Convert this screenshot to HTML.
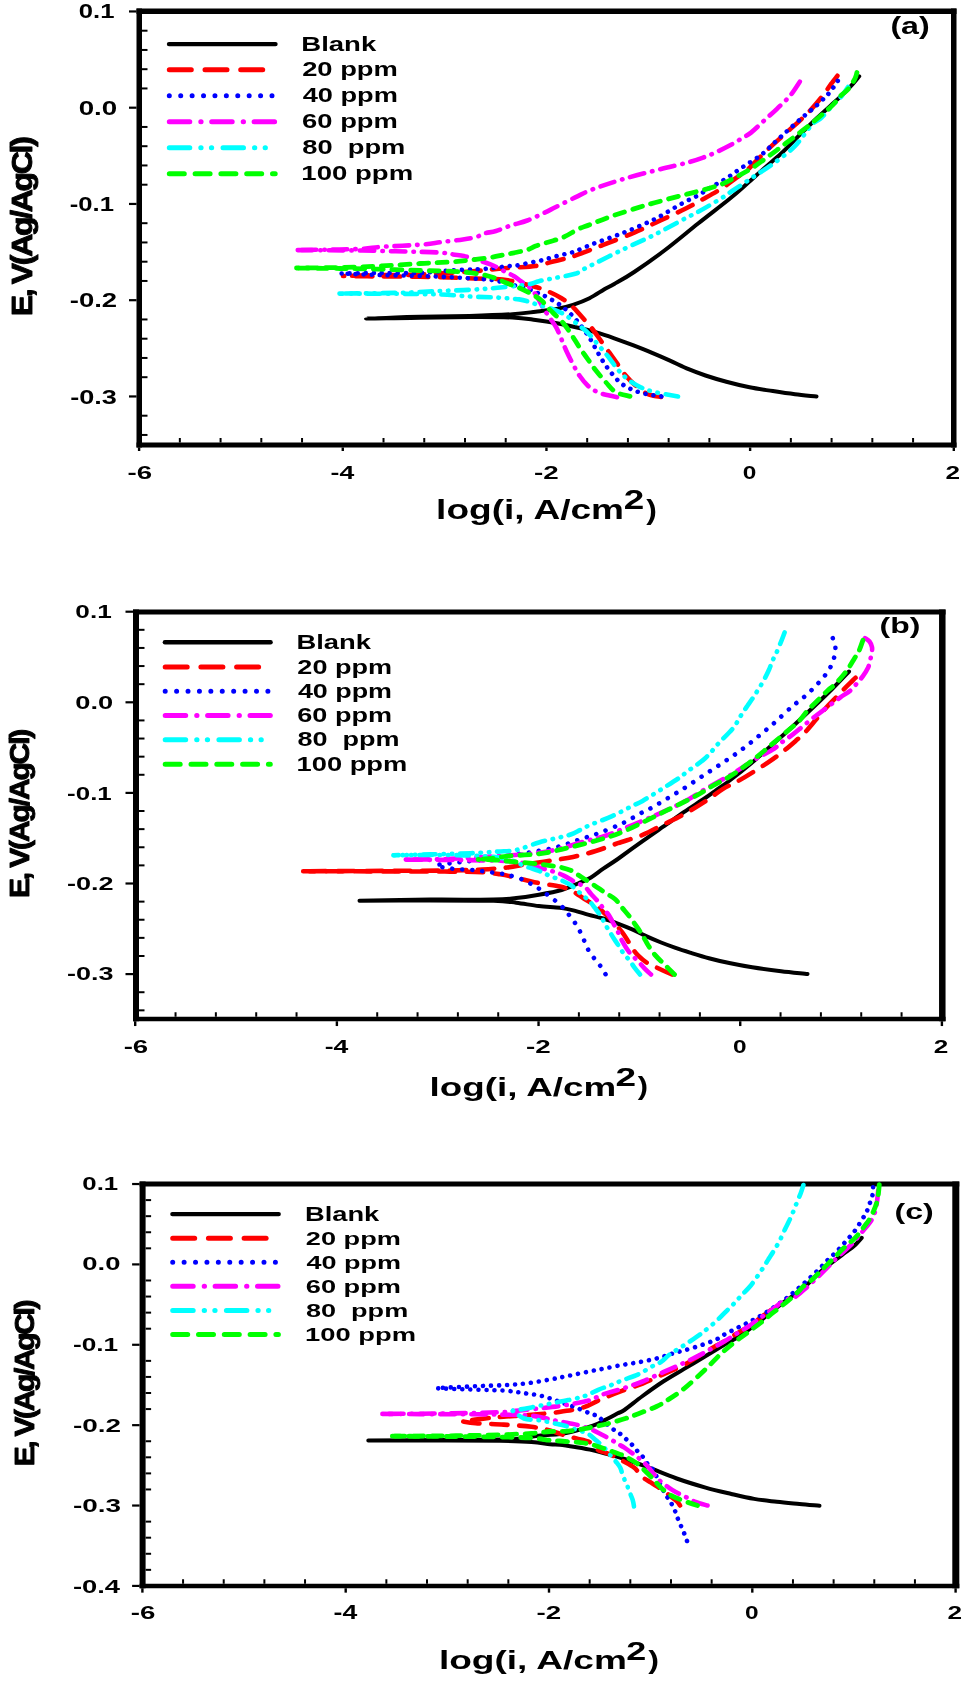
<!DOCTYPE html>
<html><head><meta charset="utf-8"><style>
html,body{margin:0;padding:0;background:#fff;}
body{width:969px;height:1682px;overflow:hidden;font-family:"Liberation Sans", sans-serif;}
svg{display:block;will-change:transform;}
</style></head><body>
<svg width="969" height="1682" viewBox="0 0 969 1682">
<rect width="969" height="1682" fill="#fff"/>
<line x1="139.25" y1="8.50" x2="139.25" y2="447.50" stroke="#000" stroke-width="5.5" stroke-linecap="butt"/>
<line x1="953.75" y1="8.50" x2="953.75" y2="447.50" stroke="#000" stroke-width="5.5" stroke-linecap="butt"/>
<line x1="136.50" y1="11.25" x2="956.50" y2="11.25" stroke="#000" stroke-width="5.5" stroke-linecap="butt"/>
<line x1="136.50" y1="445.00" x2="956.50" y2="445.00" stroke="#000" stroke-width="5.0" stroke-linecap="butt"/>
<line x1="142.00" y1="434.95" x2="147.50" y2="434.95" stroke="#000" stroke-width="2.0" stroke-linecap="butt"/>
<line x1="142.00" y1="415.70" x2="147.50" y2="415.70" stroke="#000" stroke-width="2.0" stroke-linecap="butt"/>
<line x1="129.00" y1="396.45" x2="136.50" y2="396.45" stroke="#000" stroke-width="2.2" stroke-linecap="butt"/>
<line x1="142.00" y1="377.20" x2="147.50" y2="377.20" stroke="#000" stroke-width="2.0" stroke-linecap="butt"/>
<line x1="142.00" y1="357.95" x2="147.50" y2="357.95" stroke="#000" stroke-width="2.0" stroke-linecap="butt"/>
<line x1="142.00" y1="338.70" x2="147.50" y2="338.70" stroke="#000" stroke-width="2.0" stroke-linecap="butt"/>
<line x1="142.00" y1="319.45" x2="147.50" y2="319.45" stroke="#000" stroke-width="2.0" stroke-linecap="butt"/>
<line x1="129.00" y1="300.20" x2="136.50" y2="300.20" stroke="#000" stroke-width="2.2" stroke-linecap="butt"/>
<line x1="142.00" y1="280.95" x2="147.50" y2="280.95" stroke="#000" stroke-width="2.0" stroke-linecap="butt"/>
<line x1="142.00" y1="261.70" x2="147.50" y2="261.70" stroke="#000" stroke-width="2.0" stroke-linecap="butt"/>
<line x1="142.00" y1="242.45" x2="147.50" y2="242.45" stroke="#000" stroke-width="2.0" stroke-linecap="butt"/>
<line x1="142.00" y1="223.20" x2="147.50" y2="223.20" stroke="#000" stroke-width="2.0" stroke-linecap="butt"/>
<line x1="129.00" y1="203.95" x2="136.50" y2="203.95" stroke="#000" stroke-width="2.2" stroke-linecap="butt"/>
<line x1="142.00" y1="184.70" x2="147.50" y2="184.70" stroke="#000" stroke-width="2.0" stroke-linecap="butt"/>
<line x1="142.00" y1="165.45" x2="147.50" y2="165.45" stroke="#000" stroke-width="2.0" stroke-linecap="butt"/>
<line x1="142.00" y1="146.20" x2="147.50" y2="146.20" stroke="#000" stroke-width="2.0" stroke-linecap="butt"/>
<line x1="142.00" y1="126.95" x2="147.50" y2="126.95" stroke="#000" stroke-width="2.0" stroke-linecap="butt"/>
<line x1="129.00" y1="107.70" x2="136.50" y2="107.70" stroke="#000" stroke-width="2.2" stroke-linecap="butt"/>
<line x1="142.00" y1="88.45" x2="147.50" y2="88.45" stroke="#000" stroke-width="2.0" stroke-linecap="butt"/>
<line x1="142.00" y1="69.20" x2="147.50" y2="69.20" stroke="#000" stroke-width="2.0" stroke-linecap="butt"/>
<line x1="142.00" y1="49.95" x2="147.50" y2="49.95" stroke="#000" stroke-width="2.0" stroke-linecap="butt"/>
<line x1="142.00" y1="30.70" x2="147.50" y2="30.70" stroke="#000" stroke-width="2.0" stroke-linecap="butt"/>
<line x1="129.00" y1="11.45" x2="136.50" y2="11.45" stroke="#000" stroke-width="2.2" stroke-linecap="butt"/>
<line x1="139.10" y1="447.50" x2="139.10" y2="451.00" stroke="#000" stroke-width="2.4" stroke-linecap="butt"/>
<line x1="179.84" y1="438.00" x2="179.84" y2="442.50" stroke="#000" stroke-width="2.0" stroke-linecap="butt"/>
<line x1="220.57" y1="438.00" x2="220.57" y2="442.50" stroke="#000" stroke-width="2.0" stroke-linecap="butt"/>
<line x1="261.31" y1="438.00" x2="261.31" y2="442.50" stroke="#000" stroke-width="2.0" stroke-linecap="butt"/>
<line x1="302.04" y1="438.00" x2="302.04" y2="442.50" stroke="#000" stroke-width="2.0" stroke-linecap="butt"/>
<line x1="342.77" y1="447.50" x2="342.77" y2="451.00" stroke="#000" stroke-width="2.4" stroke-linecap="butt"/>
<line x1="383.51" y1="438.00" x2="383.51" y2="442.50" stroke="#000" stroke-width="2.0" stroke-linecap="butt"/>
<line x1="424.25" y1="438.00" x2="424.25" y2="442.50" stroke="#000" stroke-width="2.0" stroke-linecap="butt"/>
<line x1="464.98" y1="438.00" x2="464.98" y2="442.50" stroke="#000" stroke-width="2.0" stroke-linecap="butt"/>
<line x1="505.71" y1="438.00" x2="505.71" y2="442.50" stroke="#000" stroke-width="2.0" stroke-linecap="butt"/>
<line x1="546.45" y1="447.50" x2="546.45" y2="451.00" stroke="#000" stroke-width="2.4" stroke-linecap="butt"/>
<line x1="587.18" y1="438.00" x2="587.18" y2="442.50" stroke="#000" stroke-width="2.0" stroke-linecap="butt"/>
<line x1="627.92" y1="438.00" x2="627.92" y2="442.50" stroke="#000" stroke-width="2.0" stroke-linecap="butt"/>
<line x1="668.65" y1="438.00" x2="668.65" y2="442.50" stroke="#000" stroke-width="2.0" stroke-linecap="butt"/>
<line x1="709.39" y1="438.00" x2="709.39" y2="442.50" stroke="#000" stroke-width="2.0" stroke-linecap="butt"/>
<line x1="750.12" y1="447.50" x2="750.12" y2="451.00" stroke="#000" stroke-width="2.4" stroke-linecap="butt"/>
<line x1="790.86" y1="438.00" x2="790.86" y2="442.50" stroke="#000" stroke-width="2.0" stroke-linecap="butt"/>
<line x1="831.60" y1="438.00" x2="831.60" y2="442.50" stroke="#000" stroke-width="2.0" stroke-linecap="butt"/>
<line x1="872.33" y1="438.00" x2="872.33" y2="442.50" stroke="#000" stroke-width="2.0" stroke-linecap="butt"/>
<line x1="913.07" y1="438.00" x2="913.07" y2="442.50" stroke="#000" stroke-width="2.0" stroke-linecap="butt"/>
<line x1="953.80" y1="447.50" x2="953.80" y2="451.00" stroke="#000" stroke-width="2.4" stroke-linecap="butt"/>
<line x1="136.00" y1="609.50" x2="136.00" y2="1021.25" stroke="#000" stroke-width="6.0" stroke-linecap="butt"/>
<line x1="942.30" y1="609.50" x2="942.30" y2="1021.25" stroke="#000" stroke-width="6.5" stroke-linecap="butt"/>
<line x1="133.00" y1="612.00" x2="945.55" y2="612.00" stroke="#000" stroke-width="5.0" stroke-linecap="butt"/>
<line x1="133.00" y1="1019.00" x2="945.55" y2="1019.00" stroke="#000" stroke-width="4.5" stroke-linecap="butt"/>
<line x1="139.00" y1="1010.34" x2="144.50" y2="1010.34" stroke="#000" stroke-width="2.0" stroke-linecap="butt"/>
<line x1="139.00" y1="992.22" x2="144.50" y2="992.22" stroke="#000" stroke-width="2.0" stroke-linecap="butt"/>
<line x1="125.50" y1="974.10" x2="133.00" y2="974.10" stroke="#000" stroke-width="2.2" stroke-linecap="butt"/>
<line x1="139.00" y1="955.98" x2="144.50" y2="955.98" stroke="#000" stroke-width="2.0" stroke-linecap="butt"/>
<line x1="139.00" y1="937.86" x2="144.50" y2="937.86" stroke="#000" stroke-width="2.0" stroke-linecap="butt"/>
<line x1="139.00" y1="919.74" x2="144.50" y2="919.74" stroke="#000" stroke-width="2.0" stroke-linecap="butt"/>
<line x1="139.00" y1="901.62" x2="144.50" y2="901.62" stroke="#000" stroke-width="2.0" stroke-linecap="butt"/>
<line x1="125.50" y1="883.50" x2="133.00" y2="883.50" stroke="#000" stroke-width="2.2" stroke-linecap="butt"/>
<line x1="139.00" y1="865.38" x2="144.50" y2="865.38" stroke="#000" stroke-width="2.0" stroke-linecap="butt"/>
<line x1="139.00" y1="847.26" x2="144.50" y2="847.26" stroke="#000" stroke-width="2.0" stroke-linecap="butt"/>
<line x1="139.00" y1="829.14" x2="144.50" y2="829.14" stroke="#000" stroke-width="2.0" stroke-linecap="butt"/>
<line x1="139.00" y1="811.02" x2="144.50" y2="811.02" stroke="#000" stroke-width="2.0" stroke-linecap="butt"/>
<line x1="125.50" y1="792.90" x2="133.00" y2="792.90" stroke="#000" stroke-width="2.2" stroke-linecap="butt"/>
<line x1="139.00" y1="774.78" x2="144.50" y2="774.78" stroke="#000" stroke-width="2.0" stroke-linecap="butt"/>
<line x1="139.00" y1="756.66" x2="144.50" y2="756.66" stroke="#000" stroke-width="2.0" stroke-linecap="butt"/>
<line x1="139.00" y1="738.54" x2="144.50" y2="738.54" stroke="#000" stroke-width="2.0" stroke-linecap="butt"/>
<line x1="139.00" y1="720.42" x2="144.50" y2="720.42" stroke="#000" stroke-width="2.0" stroke-linecap="butt"/>
<line x1="125.50" y1="702.30" x2="133.00" y2="702.30" stroke="#000" stroke-width="2.2" stroke-linecap="butt"/>
<line x1="139.00" y1="684.18" x2="144.50" y2="684.18" stroke="#000" stroke-width="2.0" stroke-linecap="butt"/>
<line x1="139.00" y1="666.06" x2="144.50" y2="666.06" stroke="#000" stroke-width="2.0" stroke-linecap="butt"/>
<line x1="139.00" y1="647.94" x2="144.50" y2="647.94" stroke="#000" stroke-width="2.0" stroke-linecap="butt"/>
<line x1="139.00" y1="629.82" x2="144.50" y2="629.82" stroke="#000" stroke-width="2.0" stroke-linecap="butt"/>
<line x1="125.50" y1="611.70" x2="133.00" y2="611.70" stroke="#000" stroke-width="2.2" stroke-linecap="butt"/>
<line x1="135.20" y1="1021.25" x2="135.20" y2="1026.05" stroke="#000" stroke-width="2.4" stroke-linecap="butt"/>
<line x1="175.54" y1="1012.25" x2="175.54" y2="1016.75" stroke="#000" stroke-width="2.0" stroke-linecap="butt"/>
<line x1="215.87" y1="1012.25" x2="215.87" y2="1016.75" stroke="#000" stroke-width="2.0" stroke-linecap="butt"/>
<line x1="256.21" y1="1012.25" x2="256.21" y2="1016.75" stroke="#000" stroke-width="2.0" stroke-linecap="butt"/>
<line x1="296.54" y1="1012.25" x2="296.54" y2="1016.75" stroke="#000" stroke-width="2.0" stroke-linecap="butt"/>
<line x1="336.88" y1="1021.25" x2="336.88" y2="1026.05" stroke="#000" stroke-width="2.4" stroke-linecap="butt"/>
<line x1="377.21" y1="1012.25" x2="377.21" y2="1016.75" stroke="#000" stroke-width="2.0" stroke-linecap="butt"/>
<line x1="417.55" y1="1012.25" x2="417.55" y2="1016.75" stroke="#000" stroke-width="2.0" stroke-linecap="butt"/>
<line x1="457.88" y1="1012.25" x2="457.88" y2="1016.75" stroke="#000" stroke-width="2.0" stroke-linecap="butt"/>
<line x1="498.22" y1="1012.25" x2="498.22" y2="1016.75" stroke="#000" stroke-width="2.0" stroke-linecap="butt"/>
<line x1="538.55" y1="1021.25" x2="538.55" y2="1026.05" stroke="#000" stroke-width="2.4" stroke-linecap="butt"/>
<line x1="578.88" y1="1012.25" x2="578.88" y2="1016.75" stroke="#000" stroke-width="2.0" stroke-linecap="butt"/>
<line x1="619.22" y1="1012.25" x2="619.22" y2="1016.75" stroke="#000" stroke-width="2.0" stroke-linecap="butt"/>
<line x1="659.56" y1="1012.25" x2="659.56" y2="1016.75" stroke="#000" stroke-width="2.0" stroke-linecap="butt"/>
<line x1="699.89" y1="1012.25" x2="699.89" y2="1016.75" stroke="#000" stroke-width="2.0" stroke-linecap="butt"/>
<line x1="740.23" y1="1021.25" x2="740.23" y2="1026.05" stroke="#000" stroke-width="2.4" stroke-linecap="butt"/>
<line x1="780.56" y1="1012.25" x2="780.56" y2="1016.75" stroke="#000" stroke-width="2.0" stroke-linecap="butt"/>
<line x1="820.90" y1="1012.25" x2="820.90" y2="1016.75" stroke="#000" stroke-width="2.0" stroke-linecap="butt"/>
<line x1="861.23" y1="1012.25" x2="861.23" y2="1016.75" stroke="#000" stroke-width="2.0" stroke-linecap="butt"/>
<line x1="901.57" y1="1012.25" x2="901.57" y2="1016.75" stroke="#000" stroke-width="2.0" stroke-linecap="butt"/>
<line x1="941.90" y1="1021.25" x2="941.90" y2="1026.05" stroke="#000" stroke-width="2.4" stroke-linecap="butt"/>
<line x1="142.60" y1="1181.50" x2="142.60" y2="1588.25" stroke="#000" stroke-width="6.0" stroke-linecap="butt"/>
<line x1="955.80" y1="1181.50" x2="955.80" y2="1588.25" stroke="#000" stroke-width="7.0" stroke-linecap="butt"/>
<line x1="139.60" y1="1184.00" x2="959.30" y2="1184.00" stroke="#000" stroke-width="5.0" stroke-linecap="butt"/>
<line x1="139.60" y1="1586.00" x2="959.30" y2="1586.00" stroke="#000" stroke-width="4.5" stroke-linecap="butt"/>
<line x1="132.10" y1="1585.92" x2="139.60" y2="1585.92" stroke="#000" stroke-width="2.2" stroke-linecap="butt"/>
<line x1="145.60" y1="1569.84" x2="151.10" y2="1569.84" stroke="#000" stroke-width="2.0" stroke-linecap="butt"/>
<line x1="145.60" y1="1553.77" x2="151.10" y2="1553.77" stroke="#000" stroke-width="2.0" stroke-linecap="butt"/>
<line x1="145.60" y1="1537.69" x2="151.10" y2="1537.69" stroke="#000" stroke-width="2.0" stroke-linecap="butt"/>
<line x1="145.60" y1="1521.62" x2="151.10" y2="1521.62" stroke="#000" stroke-width="2.0" stroke-linecap="butt"/>
<line x1="132.10" y1="1505.54" x2="139.60" y2="1505.54" stroke="#000" stroke-width="2.2" stroke-linecap="butt"/>
<line x1="145.60" y1="1489.46" x2="151.10" y2="1489.46" stroke="#000" stroke-width="2.0" stroke-linecap="butt"/>
<line x1="145.60" y1="1473.39" x2="151.10" y2="1473.39" stroke="#000" stroke-width="2.0" stroke-linecap="butt"/>
<line x1="145.60" y1="1457.31" x2="151.10" y2="1457.31" stroke="#000" stroke-width="2.0" stroke-linecap="butt"/>
<line x1="145.60" y1="1441.24" x2="151.10" y2="1441.24" stroke="#000" stroke-width="2.0" stroke-linecap="butt"/>
<line x1="132.10" y1="1425.16" x2="139.60" y2="1425.16" stroke="#000" stroke-width="2.2" stroke-linecap="butt"/>
<line x1="145.60" y1="1409.08" x2="151.10" y2="1409.08" stroke="#000" stroke-width="2.0" stroke-linecap="butt"/>
<line x1="145.60" y1="1393.01" x2="151.10" y2="1393.01" stroke="#000" stroke-width="2.0" stroke-linecap="butt"/>
<line x1="145.60" y1="1376.93" x2="151.10" y2="1376.93" stroke="#000" stroke-width="2.0" stroke-linecap="butt"/>
<line x1="145.60" y1="1360.86" x2="151.10" y2="1360.86" stroke="#000" stroke-width="2.0" stroke-linecap="butt"/>
<line x1="132.10" y1="1344.78" x2="139.60" y2="1344.78" stroke="#000" stroke-width="2.2" stroke-linecap="butt"/>
<line x1="145.60" y1="1328.70" x2="151.10" y2="1328.70" stroke="#000" stroke-width="2.0" stroke-linecap="butt"/>
<line x1="145.60" y1="1312.63" x2="151.10" y2="1312.63" stroke="#000" stroke-width="2.0" stroke-linecap="butt"/>
<line x1="145.60" y1="1296.55" x2="151.10" y2="1296.55" stroke="#000" stroke-width="2.0" stroke-linecap="butt"/>
<line x1="145.60" y1="1280.48" x2="151.10" y2="1280.48" stroke="#000" stroke-width="2.0" stroke-linecap="butt"/>
<line x1="132.10" y1="1264.40" x2="139.60" y2="1264.40" stroke="#000" stroke-width="2.2" stroke-linecap="butt"/>
<line x1="145.60" y1="1248.32" x2="151.10" y2="1248.32" stroke="#000" stroke-width="2.0" stroke-linecap="butt"/>
<line x1="145.60" y1="1232.25" x2="151.10" y2="1232.25" stroke="#000" stroke-width="2.0" stroke-linecap="butt"/>
<line x1="145.60" y1="1216.17" x2="151.10" y2="1216.17" stroke="#000" stroke-width="2.0" stroke-linecap="butt"/>
<line x1="145.60" y1="1200.10" x2="151.10" y2="1200.10" stroke="#000" stroke-width="2.0" stroke-linecap="butt"/>
<line x1="132.10" y1="1184.02" x2="139.60" y2="1184.02" stroke="#000" stroke-width="2.2" stroke-linecap="butt"/>
<line x1="142.40" y1="1588.25" x2="142.40" y2="1592.65" stroke="#000" stroke-width="2.4" stroke-linecap="butt"/>
<line x1="183.06" y1="1579.25" x2="183.06" y2="1583.75" stroke="#000" stroke-width="2.0" stroke-linecap="butt"/>
<line x1="223.72" y1="1579.25" x2="223.72" y2="1583.75" stroke="#000" stroke-width="2.0" stroke-linecap="butt"/>
<line x1="264.38" y1="1579.25" x2="264.38" y2="1583.75" stroke="#000" stroke-width="2.0" stroke-linecap="butt"/>
<line x1="305.04" y1="1579.25" x2="305.04" y2="1583.75" stroke="#000" stroke-width="2.0" stroke-linecap="butt"/>
<line x1="345.70" y1="1588.25" x2="345.70" y2="1592.65" stroke="#000" stroke-width="2.4" stroke-linecap="butt"/>
<line x1="386.36" y1="1579.25" x2="386.36" y2="1583.75" stroke="#000" stroke-width="2.0" stroke-linecap="butt"/>
<line x1="427.02" y1="1579.25" x2="427.02" y2="1583.75" stroke="#000" stroke-width="2.0" stroke-linecap="butt"/>
<line x1="467.68" y1="1579.25" x2="467.68" y2="1583.75" stroke="#000" stroke-width="2.0" stroke-linecap="butt"/>
<line x1="508.34" y1="1579.25" x2="508.34" y2="1583.75" stroke="#000" stroke-width="2.0" stroke-linecap="butt"/>
<line x1="549.00" y1="1588.25" x2="549.00" y2="1592.65" stroke="#000" stroke-width="2.4" stroke-linecap="butt"/>
<line x1="589.66" y1="1579.25" x2="589.66" y2="1583.75" stroke="#000" stroke-width="2.0" stroke-linecap="butt"/>
<line x1="630.32" y1="1579.25" x2="630.32" y2="1583.75" stroke="#000" stroke-width="2.0" stroke-linecap="butt"/>
<line x1="670.98" y1="1579.25" x2="670.98" y2="1583.75" stroke="#000" stroke-width="2.0" stroke-linecap="butt"/>
<line x1="711.64" y1="1579.25" x2="711.64" y2="1583.75" stroke="#000" stroke-width="2.0" stroke-linecap="butt"/>
<line x1="752.30" y1="1588.25" x2="752.30" y2="1592.65" stroke="#000" stroke-width="2.4" stroke-linecap="butt"/>
<line x1="792.96" y1="1579.25" x2="792.96" y2="1583.75" stroke="#000" stroke-width="2.0" stroke-linecap="butt"/>
<line x1="833.62" y1="1579.25" x2="833.62" y2="1583.75" stroke="#000" stroke-width="2.0" stroke-linecap="butt"/>
<line x1="874.28" y1="1579.25" x2="874.28" y2="1583.75" stroke="#000" stroke-width="2.0" stroke-linecap="butt"/>
<line x1="914.94" y1="1579.25" x2="914.94" y2="1583.75" stroke="#000" stroke-width="2.0" stroke-linecap="butt"/>
<line x1="955.60" y1="1588.25" x2="955.60" y2="1592.65" stroke="#000" stroke-width="2.4" stroke-linecap="butt"/>
<path d="M169.0 44.1H275.5" fill="none" stroke="#000000" stroke-width="4.4" stroke-linecap="round" stroke-linejoin="round"/>
<path d="M169.3 69.8H275.2" fill="none" stroke="#ff0000" stroke-width="5.0" stroke-linecap="round" stroke-linejoin="round" stroke-dasharray="22 13.7"/>
<path d="M169.3 95.8H275.2" fill="none" stroke="#0000ff" stroke-width="5.0" stroke-linecap="round" stroke-linejoin="round" stroke-dasharray="0.01 11.4"/>
<path d="M169.3 121.8H275.2" fill="none" stroke="#ff00ff" stroke-width="5.0" stroke-linecap="round" stroke-linejoin="round" stroke-dasharray="20.5 11 0.3 10.6"/>
<path d="M169.3 147.8H275.2" fill="none" stroke="#00ffff" stroke-width="5.0" stroke-linecap="round" stroke-linejoin="round" stroke-dasharray="20.5 11 0.3 10.3 0.3 11.3"/>
<path d="M169.3 173.8H275.2" fill="none" stroke="#00ff00" stroke-width="5.0" stroke-linecap="round" stroke-linejoin="round" stroke-dasharray="15 10.8"/>
<path d="M164.9 642.3H270.6" fill="none" stroke="#000000" stroke-width="4.4" stroke-linecap="round" stroke-linejoin="round"/>
<path d="M165.2 666.9H270.3" fill="none" stroke="#ff0000" stroke-width="5.0" stroke-linecap="round" stroke-linejoin="round" stroke-dasharray="22 13.7"/>
<path d="M165.2 691.2H270.3" fill="none" stroke="#0000ff" stroke-width="5.0" stroke-linecap="round" stroke-linejoin="round" stroke-dasharray="0.01 11.4"/>
<path d="M165.2 715.4H270.3" fill="none" stroke="#ff00ff" stroke-width="5.0" stroke-linecap="round" stroke-linejoin="round" stroke-dasharray="20.5 11 0.3 10.6"/>
<path d="M165.2 739.7H270.3" fill="none" stroke="#00ffff" stroke-width="5.0" stroke-linecap="round" stroke-linejoin="round" stroke-dasharray="20.5 11 0.3 10.3 0.3 11.3"/>
<path d="M165.2 764.3H270.3" fill="none" stroke="#00ff00" stroke-width="5.0" stroke-linecap="round" stroke-linejoin="round" stroke-dasharray="15 10.8"/>
<path d="M172.4 1214.1H278.7" fill="none" stroke="#000000" stroke-width="4.4" stroke-linecap="round" stroke-linejoin="round"/>
<path d="M172.7 1238.3H278.4" fill="none" stroke="#ff0000" stroke-width="5.0" stroke-linecap="round" stroke-linejoin="round" stroke-dasharray="22 13.7"/>
<path d="M172.7 1262.3H278.4" fill="none" stroke="#0000ff" stroke-width="5.0" stroke-linecap="round" stroke-linejoin="round" stroke-dasharray="0.01 11.4"/>
<path d="M172.7 1286.3H278.4" fill="none" stroke="#ff00ff" stroke-width="5.0" stroke-linecap="round" stroke-linejoin="round" stroke-dasharray="20.5 11 0.3 10.6"/>
<path d="M172.7 1310.6H278.4" fill="none" stroke="#00ffff" stroke-width="5.0" stroke-linecap="round" stroke-linejoin="round" stroke-dasharray="20.5 11 0.3 10.3 0.3 11.3"/>
<path d="M172.7 1334.6H278.4" fill="none" stroke="#00ff00" stroke-width="5.0" stroke-linecap="round" stroke-linejoin="round" stroke-dasharray="15 10.8"/>
<path d="M816.5 396.5C812.9 396.1 802.3 395.2 795.0 394.3C787.7 393.4 780.5 392.3 772.9 391.1C765.3 389.9 757.4 388.9 749.6 387.3C741.9 385.8 733.8 383.8 726.4 381.8C719.0 379.8 711.8 377.6 705.5 375.5C699.2 373.4 694.5 371.7 688.6 369.2C682.7 366.7 676.2 363.4 670.0 360.6C663.8 357.8 657.7 355.2 651.5 352.6C645.3 350.0 639.1 347.6 632.9 345.2C626.7 342.8 620.5 340.5 614.3 338.3C608.1 336.1 601.9 334.0 595.7 332.2C589.5 330.4 583.5 329.0 577.0 327.5C570.5 326.0 563.9 324.6 557.0 323.3C550.1 322.1 543.0 321.0 535.6 320.0C528.2 319.0 523.5 318.0 512.5 317.5C501.5 317.0 484.9 316.9 469.5 317.0C454.1 317.1 437.2 317.6 420.0 317.8C402.8 318.1 366.0 318.7 366.0 318.5C366.0 318.3 402.8 317.2 420.0 316.8C437.2 316.4 454.1 316.3 469.5 315.9C484.9 315.5 501.5 314.9 512.5 314.2C523.5 313.5 528.3 312.6 535.6 311.7C542.9 310.8 550.3 310.0 556.5 308.9C562.7 307.8 567.5 306.6 573.0 304.8C578.5 303.0 584.3 300.8 589.5 298.2C594.7 295.6 599.9 291.9 604.0 289.5C608.1 287.1 609.3 286.9 614.3 284.0C619.3 281.1 625.7 277.7 634.2 272.0C642.7 266.3 654.5 258.1 665.1 250.0C675.8 241.9 687.4 232.0 698.1 223.5C708.8 215.0 721.3 205.6 729.4 199.0C737.5 192.4 740.9 189.1 746.7 184.0C752.5 178.9 758.2 173.5 764.0 168.4C769.8 163.3 775.6 158.6 781.4 153.2C787.2 147.8 792.9 141.7 798.7 135.9C804.6 130.1 811.0 123.7 816.5 118.5C822.0 113.3 827.2 108.8 831.8 104.6C836.4 100.4 840.3 96.9 843.9 93.4C847.5 89.9 850.5 86.6 853.1 83.7C855.7 80.8 858.2 77.5 859.2 76.3" fill="none" stroke="#000000" stroke-width="4.0" stroke-linecap="round" stroke-linejoin="round"/>
<path d="M661.0 397.0C658.7 396.5 651.5 395.8 647.3 393.9C643.1 392.0 639.4 388.7 635.8 385.7C632.2 382.7 628.9 379.4 625.9 375.8C622.9 372.2 620.4 368.1 617.6 364.2C614.9 360.3 612.1 356.5 609.4 352.7C606.6 348.9 603.9 345.0 601.1 341.1C598.3 337.2 595.8 333.4 592.8 329.5C589.8 325.6 586.2 321.7 582.9 318.0C579.6 314.3 576.6 310.5 573.0 307.2C569.4 303.9 565.6 300.8 561.5 298.2C557.4 295.6 552.6 293.4 548.3 291.5C544.0 289.6 540.5 288.4 535.6 287.0C530.7 285.6 524.6 284.1 519.1 282.8C513.6 281.6 510.0 280.2 502.6 279.5C495.2 278.8 483.3 278.8 474.5 278.5C465.7 278.2 458.8 277.8 449.7 277.5C440.6 277.2 431.6 277.0 420.0 276.8C408.4 276.6 392.8 276.5 380.0 276.4C367.2 276.3 349.2 276.1 343.0 276.0" fill="none" stroke="#ff0000" stroke-width="4.6" stroke-linecap="round" stroke-linejoin="round" stroke-dasharray="16.4 11.6"/>
<path d="M837.4 75.8C836.4 77.1 833.0 81.4 831.3 83.7C829.6 86.0 828.6 87.7 827.1 89.7C825.6 91.8 825.1 92.8 822.5 96.0C819.9 99.2 815.3 104.9 811.7 108.8C808.1 112.7 804.5 116.2 800.9 119.6C797.3 123.0 793.6 126.2 790.0 129.4C786.4 132.7 782.8 135.8 779.2 139.1C775.6 142.3 772.0 145.5 768.4 148.9C764.8 152.3 761.1 156.1 757.5 159.7C753.9 163.3 750.3 167.4 746.7 170.5C743.1 173.6 740.2 175.0 735.9 178.1C731.6 181.2 726.1 185.5 720.7 189.0C715.3 192.5 709.1 195.8 703.3 199.0C697.5 202.2 692.8 205.0 685.8 208.5C678.8 212.0 669.6 216.2 661.0 220.2C652.4 224.2 643.8 228.5 634.2 232.6C624.6 236.7 612.5 241.3 603.2 244.9C593.9 248.5 584.3 252.3 578.5 254.4C572.7 256.5 573.0 256.5 568.6 257.7C564.2 258.9 557.6 260.4 552.1 261.8C546.6 263.2 542.2 265.0 535.6 266.0C529.0 267.0 519.4 267.1 512.5 267.6C505.6 268.1 501.4 268.6 494.3 269.2C487.2 269.8 482.4 270.6 470.0 271.5C457.6 272.4 435.0 274.0 420.0 274.6C405.0 275.2 392.8 274.8 380.0 275.0C367.2 275.2 349.2 275.8 343.0 276.0" fill="none" stroke="#ff0000" stroke-width="4.6" stroke-linecap="round" stroke-linejoin="round" stroke-dasharray="16.4 11.6"/>
<path d="M661.4 396.4C658.8 396.0 650.5 395.0 645.7 393.9C640.9 392.8 636.6 391.6 632.5 389.8C628.4 388.0 624.5 386.1 620.9 383.2C617.3 380.3 614.0 376.2 611.0 372.5C608.0 368.8 605.2 364.8 602.7 360.9C600.2 357.0 598.3 353.2 596.1 349.4C593.9 345.5 592.0 341.7 589.5 337.8C587.0 333.9 584.3 330.1 581.3 326.2C578.3 322.3 575.0 318.3 571.4 314.7C567.8 311.1 563.9 307.7 559.8 304.8C555.7 301.9 550.5 299.1 547.0 297.2C543.5 295.3 542.2 295.0 538.9 293.6C535.6 292.2 532.0 290.1 527.3 288.6C522.6 287.1 516.3 285.9 510.8 284.5C505.3 283.1 500.4 281.4 494.3 280.4C488.2 279.4 481.9 279.2 474.5 278.7C467.1 278.1 458.8 277.6 449.7 277.1C440.6 276.7 431.6 276.4 420.0 276.0C408.4 275.6 393.2 275.4 380.0 275.0C366.8 274.6 347.5 273.8 341.0 273.5" fill="none" stroke="#0000ff" stroke-width="4.6" stroke-linecap="round" stroke-linejoin="round" stroke-dasharray="0.01 8"/>
<path d="M837.8 80.9C837.2 81.8 835.4 84.7 834.1 86.5C832.8 88.3 831.5 90.2 830.0 92.0C828.5 93.8 827.8 94.6 825.3 97.1C822.8 99.6 818.7 103.7 815.1 106.9C811.5 110.1 808.1 112.6 803.9 116.2C799.7 119.8 794.5 124.5 790.0 128.5C785.5 132.5 781.7 135.9 777.0 140.2C772.3 144.5 767.7 149.8 761.9 154.3C756.1 158.8 748.5 163.2 742.4 167.3C736.2 171.5 730.4 175.8 725.0 179.2C719.6 182.6 714.3 185.2 709.8 187.9C705.3 190.6 702.8 192.8 698.1 195.4C693.4 198.0 688.8 199.8 681.6 203.7C674.4 207.6 664.4 214.3 654.8 219.1C645.2 223.9 634.1 228.5 623.8 232.6C613.5 236.7 600.9 240.8 592.9 243.9C584.9 247.0 580.3 249.5 576.0 251.1C571.7 252.7 570.2 252.8 567.0 253.6C563.8 254.4 560.2 255.2 557.0 256.0C553.8 256.8 551.0 257.7 548.0 258.5C545.0 259.3 542.1 260.3 538.9 261.0C535.7 261.7 532.3 262.0 529.0 262.7C525.7 263.4 522.4 264.6 519.1 265.1C515.8 265.7 514.7 265.4 509.2 266.0C503.7 266.6 493.2 268.2 486.0 268.8C478.8 269.4 473.9 269.2 466.2 269.6C458.5 270.0 447.5 270.8 439.8 271.3C432.1 271.9 430.0 272.6 420.0 272.9C410.0 273.2 393.2 272.9 380.0 273.0C366.8 273.1 347.5 273.4 341.0 273.5" fill="none" stroke="#0000ff" stroke-width="4.6" stroke-linecap="round" stroke-linejoin="round" stroke-dasharray="0.01 8"/>
<path d="M617.0 397.2C615.7 396.9 612.6 396.4 609.4 395.6C606.2 394.8 601.4 394.0 597.8 392.3C594.2 390.6 590.9 388.4 587.9 385.7C584.9 382.9 582.1 379.4 579.6 375.8C577.1 372.2 575.2 368.3 573.0 364.2C570.8 360.1 568.3 355.1 566.4 351.0C564.5 346.9 563.1 343.2 561.5 339.4C559.9 335.5 558.4 331.5 556.5 327.9C554.6 324.3 552.1 321.3 549.9 318.0C547.7 314.7 545.7 312.0 543.3 308.1C540.9 304.2 538.0 297.9 535.6 294.4C533.2 290.9 531.5 289.2 529.0 287.0C526.5 284.8 523.2 283.0 520.7 281.2C518.2 279.4 516.6 277.7 514.1 276.2C511.6 274.7 509.2 273.8 505.9 272.1C502.6 270.4 497.6 267.6 494.3 266.0C491.0 264.4 489.3 263.8 486.0 262.7C482.7 261.6 478.2 260.5 474.5 259.4C470.8 258.3 467.4 256.8 463.8 256.0C460.2 255.2 456.7 255.0 453.0 254.4C449.3 253.8 446.6 253.1 441.5 252.7C436.4 252.3 430.1 252.1 422.5 251.9C414.9 251.7 405.6 251.5 395.6 251.3C385.6 251.1 373.6 250.7 362.6 250.5C351.6 250.3 340.8 250.4 329.5 250.3C318.2 250.2 300.8 250.1 295.0 250.1" fill="none" stroke="#ff00ff" stroke-width="4.6" stroke-linecap="round" stroke-linejoin="round" stroke-dasharray="14.5 8 0.5 8"/>
<path d="M799.8 81.7C798.2 84.0 793.8 91.3 790.0 95.8C786.2 100.3 781.3 104.6 777.0 108.8C772.7 113.0 768.3 116.7 764.0 120.7C759.7 124.7 754.6 129.7 751.0 132.6C747.4 135.5 745.6 136.0 742.4 138.0C739.1 140.0 735.8 142.2 731.5 144.5C727.2 146.8 721.1 149.9 716.4 152.1C711.7 154.3 708.4 155.7 703.3 157.5C698.2 159.3 693.4 161.0 686.0 163.0C678.6 165.0 669.3 166.9 658.9 169.6C648.5 172.2 634.8 175.6 623.8 178.9C612.8 182.2 601.0 186.1 592.9 189.2C584.8 192.3 581.5 194.4 575.2 197.4C569.0 200.4 560.6 204.7 555.4 207.3C550.2 209.9 548.5 210.9 543.8 213.1C539.1 215.3 532.8 218.4 527.3 220.5C521.8 222.6 516.0 223.8 510.8 225.5C505.6 227.2 500.4 229.7 496.0 231.0C491.6 232.3 487.7 232.4 484.4 233.4C481.1 234.4 479.7 236.1 476.1 237.1C472.5 238.1 468.7 238.7 462.9 239.5C457.1 240.3 448.2 241.2 441.5 242.0C434.8 242.8 432.4 243.7 422.5 244.5C412.6 245.3 392.4 246.1 382.4 246.8C372.4 247.5 371.4 248.3 362.6 248.8C353.8 249.3 340.8 249.4 329.5 249.6C318.2 249.8 300.8 250.0 295.0 250.1" fill="none" stroke="#ff00ff" stroke-width="4.6" stroke-linecap="round" stroke-linejoin="round" stroke-dasharray="14.5 8 0.5 8"/>
<path d="M678.0 396.5C674.3 395.8 661.8 393.8 655.6 392.3C649.4 390.8 645.4 389.5 640.7 387.3C636.0 385.1 631.4 382.1 627.5 379.1C623.6 376.1 620.9 373.1 617.6 369.2C614.3 365.3 611.0 360.1 607.7 356.0C604.4 351.9 601.1 348.3 597.8 344.4C594.5 340.5 591.2 336.1 587.9 332.8C584.6 329.5 581.9 327.6 578.0 324.6C574.1 321.6 569.0 317.3 564.8 314.7C560.6 312.1 556.9 310.7 552.6 309.1C548.3 307.5 542.8 306.3 538.9 305.1C535.0 303.9 532.3 302.8 529.0 301.8C525.7 300.9 524.6 300.1 519.1 299.4C513.6 298.7 504.2 298.0 496.0 297.5C487.8 297.0 479.3 297.0 470.0 296.5C460.7 296.0 451.7 294.9 440.0 294.5C428.3 294.1 416.8 293.9 400.0 293.8C383.2 293.7 349.6 293.6 339.5 293.6" fill="none" stroke="#00ffff" stroke-width="4.6" stroke-linecap="round" stroke-linejoin="round" stroke-dasharray="12.5 7.8 0.5 7.8 0.5 7.8"/>
<path d="M848.0 87.0C846.9 88.5 843.9 93.3 841.5 96.2C839.1 99.1 836.7 100.8 833.4 104.4C830.1 108.0 825.2 114.2 821.6 117.6C818.0 121.0 816.2 120.2 811.7 125.0C807.2 129.8 800.9 140.2 794.4 146.7C787.9 153.2 779.6 158.9 772.7 164.0C765.8 169.1 759.7 172.7 753.2 177.0C746.7 181.3 739.1 186.4 733.7 190.0C728.3 193.6 726.6 195.0 720.7 198.7C714.8 202.3 703.9 208.7 698.1 211.9C692.3 215.1 693.0 214.3 685.8 218.1C678.6 221.9 665.1 229.4 654.8 234.6C644.5 239.8 635.1 243.6 623.8 249.1C612.4 254.6 594.8 263.5 586.7 267.6C578.6 271.7 580.4 272.1 575.2 273.8C570.0 275.5 561.5 276.7 555.4 277.9C549.3 279.1 543.6 280.1 538.9 281.2C534.2 282.3 534.2 283.4 527.3 284.5C520.4 285.6 507.2 286.9 497.6 287.8C488.1 288.7 479.6 289.3 470.0 289.8C460.4 290.3 451.7 290.5 440.0 291.0C428.3 291.5 416.8 292.4 400.0 292.8C383.2 293.2 349.6 293.5 339.5 293.6" fill="none" stroke="#00ffff" stroke-width="4.6" stroke-linecap="round" stroke-linejoin="round" stroke-dasharray="12.5 7.8 0.5 7.8 0.5 7.8"/>
<path d="M630.0 396.4C627.7 395.7 620.0 394.6 616.0 392.3C612.0 390.0 609.3 386.0 606.0 382.4C602.7 378.8 599.1 374.6 596.1 370.8C593.1 367.0 590.6 363.2 587.9 359.3C585.1 355.4 582.4 351.8 579.6 347.7C576.9 343.6 574.1 338.6 571.4 334.5C568.6 330.4 566.1 326.5 563.1 322.9C560.1 319.3 556.2 316.0 553.2 313.0C550.2 310.0 546.8 306.8 545.0 304.8C543.2 302.8 544.3 302.7 542.2 301.0C540.1 299.3 536.1 296.6 532.3 294.4C528.4 292.2 523.5 289.7 519.1 287.8C514.7 285.9 510.0 284.5 505.9 282.8C501.8 281.1 499.0 279.4 494.3 277.9C489.6 276.4 484.7 274.9 477.8 273.8C470.9 272.7 462.6 271.9 453.0 271.3C443.4 270.8 432.2 270.9 420.0 270.5C407.8 270.1 393.3 269.5 380.0 269.2C366.7 268.9 353.9 268.7 340.0 268.5C326.1 268.3 303.8 268.1 296.5 268.0" fill="none" stroke="#00ff00" stroke-width="4.8" stroke-linecap="round" stroke-linejoin="round" stroke-dasharray="10 8.6"/>
<path d="M856.9 72.5C856.6 73.5 856.4 75.9 855.0 78.6C853.6 81.3 850.8 86.0 848.5 88.8C846.2 91.6 843.5 92.9 841.0 95.5C838.5 98.1 836.5 101.3 833.4 104.4C830.3 107.5 826.5 110.8 822.5 114.2C818.5 117.6 814.2 121.2 809.5 125.0C804.8 128.8 799.1 133.3 794.4 136.9C789.7 140.5 785.7 143.4 781.4 146.7C777.1 149.9 773.1 153.0 768.4 156.4C763.7 159.8 758.3 164.0 753.2 167.3C748.1 170.6 743.4 173.1 738.0 176.0C732.6 178.9 727.4 182.0 720.7 184.6C714.1 187.2 705.7 189.2 698.1 191.3C690.5 193.4 684.3 194.7 675.4 197.1C666.5 199.5 654.8 202.6 644.5 205.7C634.2 208.8 622.6 212.4 613.5 215.5C604.4 218.6 595.8 222.2 590.0 224.5C584.2 226.8 582.9 226.9 578.5 229.0C574.1 231.1 568.7 234.9 563.7 237.1C558.8 239.3 553.5 240.5 548.8 242.0C544.1 243.5 539.5 244.7 535.6 246.1C531.8 247.5 530.7 248.9 525.7 250.3C520.8 251.7 511.9 253.2 505.9 254.4C499.8 255.6 495.5 256.7 489.4 257.7C483.3 258.7 475.6 259.5 469.5 260.2C463.4 260.9 458.5 261.4 453.0 261.8C447.5 262.2 442.0 262.4 436.5 262.7C431.0 263.0 429.4 262.9 420.0 263.5C410.6 264.1 393.3 265.3 380.0 266.0C366.7 266.7 353.9 267.2 340.0 267.5C326.1 267.8 303.8 267.9 296.5 268.0" fill="none" stroke="#00ff00" stroke-width="4.8" stroke-linecap="round" stroke-linejoin="round" stroke-dasharray="10 8.6"/>
<path d="M807.5 974.0C803.1 973.5 790.3 972.3 781.1 971.2C771.9 970.1 760.6 968.6 752.2 967.3C743.8 966.0 737.7 964.8 730.5 963.3C723.3 961.8 715.6 960.0 708.9 958.2C702.1 956.4 695.5 954.3 690.0 952.6C684.5 950.9 680.4 949.6 675.6 947.9C670.8 946.2 665.9 944.4 661.1 942.5C656.3 940.6 651.5 938.6 646.7 936.4C641.9 934.2 637.0 931.5 632.2 929.4C627.4 927.3 622.6 925.4 617.8 923.6C613.0 921.8 608.1 920.0 603.3 918.5C598.5 917.0 593.7 916.2 588.9 914.9C584.1 913.6 579.2 911.8 574.4 910.6C569.6 909.4 565.9 908.5 560.0 907.7C554.1 907.0 546.2 906.9 538.9 906.1C531.6 905.3 523.8 903.6 516.2 902.7C508.6 901.8 507.9 901.2 493.5 900.8C479.1 900.4 452.3 900.4 430.0 900.4C407.7 900.4 359.5 900.8 359.5 900.7C359.5 900.6 407.7 899.8 430.0 899.6C452.3 899.4 479.1 899.9 493.5 899.6C507.9 899.4 508.6 898.9 516.2 898.1C523.8 897.3 531.3 896.1 538.9 894.7C546.5 893.4 555.1 891.9 561.6 890.0C568.1 888.1 573.1 885.6 578.0 883.5C582.9 881.4 586.8 880.0 591.0 877.5C595.2 875.0 598.8 871.8 603.3 868.7C607.8 865.6 611.2 863.6 617.8 859.0C624.3 854.4 635.0 846.5 642.6 841.1C650.2 835.7 656.3 831.5 663.2 826.7C670.1 821.9 676.9 816.9 683.8 812.2C690.7 807.5 699.4 802.0 704.5 798.5C709.6 795.0 710.0 794.7 714.4 791.5C718.8 788.3 724.8 784.2 731.0 779.5C737.2 774.8 744.7 768.8 751.6 763.0C758.5 757.2 765.3 750.9 772.2 744.8C779.1 738.7 785.7 732.8 792.9 726.2C800.1 719.6 809.1 711.2 815.6 705.0C822.1 698.8 826.5 694.6 832.1 689.0C837.7 683.4 846.2 674.4 849.0 671.5" fill="none" stroke="#000000" stroke-width="4.0" stroke-linecap="round" stroke-linejoin="round"/>
<path d="M672.0 974.5C669.5 973.4 661.0 969.6 656.8 967.6C652.6 965.6 649.8 964.6 646.7 962.6C643.6 960.6 640.4 957.8 638.0 955.4C635.6 953.0 633.9 950.5 632.2 948.1C630.5 945.7 629.6 943.5 627.9 940.9C626.2 938.2 624.3 935.1 622.1 932.2C619.9 929.3 617.5 926.5 614.9 923.6C612.2 920.7 609.3 917.8 606.2 914.9C603.1 912.0 599.7 908.9 596.1 906.2C592.5 903.6 588.0 901.2 584.6 899.0C581.2 896.8 578.5 894.8 575.9 893.2C573.2 891.6 571.4 890.7 568.7 889.6C566.1 888.5 565.7 887.7 560.0 886.5C554.3 885.3 541.7 883.7 534.4 882.2C527.1 880.7 521.9 879.0 516.2 877.7C510.5 876.4 506.0 875.2 500.3 874.3C494.6 873.4 490.6 872.7 482.2 872.2C473.8 871.8 463.7 871.7 450.0 871.6C436.3 871.5 424.5 871.5 400.0 871.4C375.5 871.3 319.3 871.3 303.2 871.3" fill="none" stroke="#ff0000" stroke-width="4.6" stroke-linecap="round" stroke-linejoin="round" stroke-dasharray="16.4 11.6"/>
<path d="M855.5 677.8C855.0 678.2 854.5 678.7 852.7 680.5C850.9 682.3 847.2 685.8 844.5 688.6C841.8 691.4 839.3 694.2 836.2 697.4C833.1 700.6 829.3 704.2 825.9 708.0C822.5 711.8 819.0 716.0 815.6 720.0C812.2 724.0 808.6 728.6 805.3 732.0C802.0 735.4 800.5 736.8 796.0 740.6C791.5 744.5 784.6 750.5 778.4 755.1C772.2 759.8 765.5 764.2 758.8 768.5C752.1 772.8 744.2 777.6 738.2 781.0C732.2 784.4 728.3 785.6 722.7 789.1C717.1 792.6 711.0 797.7 704.5 801.9C698.0 806.1 690.7 810.5 683.8 814.3C676.9 818.1 670.1 821.2 663.2 824.6C656.3 828.0 650.2 831.8 642.6 834.9C635.0 838.0 625.6 840.5 617.8 843.2C610.0 845.9 603.2 848.7 595.7 851.0C588.2 853.3 580.6 855.4 573.0 857.0C565.4 858.6 557.9 859.5 550.3 860.7C542.7 861.9 534.8 863.0 527.6 864.1C520.4 865.2 514.7 866.6 507.1 867.5C499.5 868.4 491.5 869.0 482.0 869.5C472.5 870.0 463.7 870.3 450.0 870.5C436.3 870.7 424.5 870.7 400.0 870.8C375.5 870.9 319.3 871.2 303.2 871.3" fill="none" stroke="#ff0000" stroke-width="4.6" stroke-linecap="round" stroke-linejoin="round" stroke-dasharray="16.4 11.6"/>
<path d="M605.5 974.2C604.7 972.9 602.3 968.7 600.5 966.2C598.7 963.7 596.6 961.5 594.7 959.0C592.8 956.5 590.5 953.6 588.9 951.0C587.3 948.4 586.5 945.8 585.3 943.1C584.1 940.5 582.9 937.6 581.7 935.1C580.5 932.6 579.6 930.4 578.1 927.9C576.6 925.4 574.9 922.6 573.0 920.0C571.1 917.4 568.7 914.6 566.5 912.0C564.3 909.4 562.7 907.0 560.0 904.5C557.3 902.0 553.4 899.4 550.3 897.0C547.2 894.6 544.2 892.3 541.2 890.2C538.2 888.1 535.5 886.4 532.1 884.5C528.7 882.6 525.0 880.4 520.8 878.8C516.6 877.2 510.8 875.7 507.1 874.8C503.4 873.9 501.8 873.7 498.4 873.2C495.0 872.7 490.4 872.3 486.8 871.8C483.2 871.3 480.3 870.7 476.7 870.3C473.1 869.9 468.8 869.8 465.1 869.6C461.4 869.4 457.9 869.2 454.3 868.9C450.7 868.5 446.8 868.1 443.5 867.5C440.2 866.9 436.2 865.7 434.8 865.3" fill="none" stroke="#0000ff" stroke-width="4.6" stroke-linecap="round" stroke-linejoin="round" stroke-dasharray="0.01 10"/>
<path d="M832.8 638.2C833.2 639.6 834.9 643.7 835.3 646.3C835.6 648.9 835.3 651.3 834.9 653.9C834.5 656.5 833.8 659.1 832.8 661.7C831.8 664.3 830.6 667.1 829.1 669.6C827.6 672.1 825.8 674.4 823.7 677.0C821.6 679.6 819.0 682.5 816.6 685.0C814.2 687.5 812.0 689.8 809.4 692.2C806.8 694.6 804.0 697.1 801.1 699.5C798.2 701.9 796.0 703.0 791.8 706.7C787.6 710.4 781.4 716.6 775.9 721.5C770.4 726.4 764.6 731.3 758.8 736.0C753.0 740.7 747.3 745.4 741.3 749.9C735.3 754.4 729.1 758.5 722.7 762.8C716.3 767.1 709.6 771.4 703.1 775.7C696.6 780.0 688.7 785.3 683.8 788.5C678.9 791.7 678.6 791.6 673.5 794.7C668.4 797.8 658.0 804.2 652.9 807.1C647.8 810.0 647.8 809.5 642.6 812.2C637.4 815.0 629.3 820.1 621.9 823.6C614.5 827.1 605.4 830.6 598.0 833.4C590.6 836.2 584.3 837.9 577.5 840.2C570.7 842.5 564.3 845.1 557.1 847.0C549.9 848.9 542.0 850.3 534.4 851.6C526.8 852.9 518.5 853.9 511.7 855.0C504.9 856.1 501.1 857.3 493.5 858.4C485.9 859.5 474.6 860.6 466.3 861.5C458.0 862.4 448.9 863.4 443.6 864.0C438.4 864.6 436.3 865.1 434.8 865.3" fill="none" stroke="#0000ff" stroke-width="4.6" stroke-linecap="round" stroke-linejoin="round" stroke-dasharray="0.01 10"/>
<path d="M651.0 974.5C650.0 973.6 647.4 971.3 645.2 969.1C643.0 966.9 640.6 963.9 638.0 961.1C635.4 958.3 632.0 955.9 629.4 952.5C626.8 949.1 624.0 944.4 622.1 940.9C620.2 937.4 619.2 934.4 617.8 931.5C616.4 928.6 615.0 926.2 613.5 923.6C612.0 921.0 610.8 918.1 609.1 915.6C607.4 913.1 605.1 910.7 603.3 908.4C601.5 906.1 600.3 904.3 598.3 901.9C596.3 899.5 593.4 896.5 591.1 894.0C588.8 891.5 587.4 888.8 584.6 886.7C581.8 884.7 577.8 883.5 574.4 881.7C571.0 879.9 567.6 877.5 564.3 875.9C561.0 874.3 559.0 873.4 554.8 872.0C550.6 870.6 545.3 869.2 538.9 867.5C532.5 865.8 524.4 863.0 516.2 861.8C508.1 860.6 501.0 860.8 490.0 860.5C479.0 860.2 464.7 860.1 450.0 860.0C435.3 859.9 409.7 859.7 401.6 859.6" fill="none" stroke="#ff00ff" stroke-width="4.6" stroke-linecap="round" stroke-linejoin="round" stroke-dasharray="14.5 8 0.5 8"/>
<path d="M865.0 638.2C865.8 638.8 868.3 640.0 869.5 641.5C870.7 643.0 871.6 645.4 872.0 647.3C872.4 649.2 871.9 650.8 871.6 653.1C871.3 655.4 870.6 658.4 870.0 660.9C869.4 663.4 869.1 665.5 867.9 668.0C866.7 670.5 864.4 674.1 862.9 676.2C861.4 678.4 860.9 678.6 858.9 680.9C856.9 683.2 853.8 687.5 850.7 690.2C847.6 693.0 844.2 694.6 840.4 697.4C836.6 700.1 832.1 703.6 828.0 706.7C823.9 709.8 819.7 712.8 815.6 716.0C811.5 719.2 807.0 722.9 803.2 726.0C799.4 729.1 796.3 731.8 792.9 734.4C789.5 737.0 786.0 739.1 782.6 741.7C779.2 744.3 777.0 746.8 772.2 749.9C767.4 753.0 760.6 756.1 753.7 760.2C746.8 764.3 739.1 769.9 731.0 774.7C722.9 779.5 713.1 784.6 705.2 789.1C697.3 793.6 692.5 797.4 683.8 801.9C675.1 806.4 665.6 810.9 652.9 816.4C640.2 821.9 618.9 830.8 607.5 835.0C596.1 839.2 591.9 839.2 584.3 841.4C576.6 843.6 569.2 846.3 561.6 848.2C554.0 850.1 548.0 851.5 538.9 852.7C529.8 853.9 521.9 854.5 507.1 855.5C492.3 856.5 467.6 858.1 450.0 858.8C432.4 859.5 409.7 859.5 401.6 859.6" fill="none" stroke="#ff00ff" stroke-width="4.6" stroke-linecap="round" stroke-linejoin="round" stroke-dasharray="14.5 8 0.5 8"/>
<path d="M640.0 974.5C639.2 973.5 636.9 970.8 635.1 968.4C633.3 966.0 631.4 963.0 629.4 960.4C627.4 957.8 624.8 955.1 622.9 952.5C621.0 949.9 619.4 946.9 617.8 944.5C616.2 942.1 615.0 940.3 613.5 938.0C612.0 935.7 610.6 933.2 609.1 930.8C607.6 928.4 606.2 926.1 604.8 923.6C603.4 921.1 602.2 918.2 600.5 915.6C598.8 913.0 596.6 910.2 594.7 907.7C592.8 905.2 591.1 902.7 588.9 900.5C586.7 898.3 584.4 897.0 581.7 894.7C579.1 892.4 576.1 889.0 573.0 886.7C569.9 884.4 566.7 882.8 562.9 881.0C559.1 879.2 554.0 877.7 550.0 876.0C546.0 874.3 543.0 872.5 538.9 870.9C534.8 869.3 531.0 868.4 525.3 866.3C519.6 864.2 514.1 860.2 504.9 858.4C495.7 856.6 482.5 856.1 470.0 855.5C457.5 854.9 442.7 855.0 430.0 855.0C417.3 855.0 399.7 855.2 393.6 855.2" fill="none" stroke="#00ffff" stroke-width="4.6" stroke-linecap="round" stroke-linejoin="round" stroke-dasharray="12.5 7.8 0.5 7.8 0.5 7.8"/>
<path d="M784.6 632.4C784.1 633.8 782.9 637.2 781.5 640.6C780.1 644.0 777.9 649.5 776.4 653.0C774.9 656.5 773.4 658.5 772.2 661.3C771.0 664.0 770.5 666.4 769.1 669.5C767.7 672.6 765.9 676.4 764.0 679.9C762.1 683.4 759.7 687.1 757.8 690.2C755.9 693.3 754.3 695.8 752.6 698.4C750.9 701.0 749.4 703.0 747.5 705.7C745.6 708.5 743.7 711.1 741.3 714.9C738.9 718.7 736.7 723.7 733.0 728.3C729.3 732.9 723.7 737.7 719.1 742.7C714.5 747.7 710.4 753.5 705.2 758.2C700.0 762.9 692.4 767.7 688.0 771.0C683.6 774.3 683.2 775.1 678.7 778.2C674.2 781.3 667.1 785.7 661.1 789.5C655.1 793.3 647.4 798.1 642.6 800.9C637.8 803.6 637.4 803.4 632.2 806.0C627.0 808.6 618.5 813.3 611.6 816.4C604.7 819.5 596.2 822.4 591.0 824.6C585.8 826.8 584.0 828.1 580.6 829.8C577.2 831.4 574.6 833.1 570.7 834.5C566.8 835.9 562.4 836.7 557.1 838.0C551.8 839.3 545.7 840.5 538.9 842.5C532.1 844.5 523.0 848.5 516.2 850.0C509.4 851.5 505.6 851.1 498.0 851.6C490.4 852.1 482.1 852.7 470.8 853.2C459.5 853.7 442.9 854.1 430.0 854.4C417.1 854.7 399.7 855.1 393.6 855.2" fill="none" stroke="#00ffff" stroke-width="4.6" stroke-linecap="round" stroke-linejoin="round" stroke-dasharray="12.5 7.8 0.5 7.8 0.5 7.8"/>
<path d="M674.5 974.5C672.8 972.8 667.2 967.2 664.0 964.0C660.8 960.8 658.0 958.5 655.4 955.4C652.8 952.3 650.3 948.6 648.1 945.2C645.9 941.8 644.3 938.2 642.4 935.1C640.5 932.0 638.8 929.6 636.6 926.5C634.4 923.4 631.8 919.5 629.4 916.4C627.0 913.3 624.5 910.6 622.1 907.7C619.7 904.8 617.8 901.5 614.9 899.0C612.0 896.5 608.4 894.9 604.8 892.5C601.2 890.1 597.1 887.1 593.2 884.6C589.4 882.1 585.3 879.6 581.7 877.3C578.1 875.0 575.2 872.5 571.6 870.8C568.0 869.1 565.5 868.3 560.0 867.2C554.5 866.1 546.8 865.0 538.9 864.1C531.0 863.2 520.1 862.4 512.8 861.7C505.5 861.0 500.8 860.4 495.0 860.0C489.2 859.6 480.9 859.6 478.1 859.5" fill="none" stroke="#00ff00" stroke-width="4.8" stroke-linecap="round" stroke-linejoin="round" stroke-dasharray="10 8.6"/>
<path d="M862.9 640.3C862.2 642.1 860.2 648.4 858.8 651.4C857.4 654.4 856.5 655.1 854.7 658.0C852.9 660.9 850.2 665.8 848.1 668.8C846.0 671.8 844.6 673.5 842.3 676.2C839.9 679.0 836.4 683.0 834.0 685.3C831.6 687.6 830.7 687.7 828.0 690.2C825.3 692.7 821.1 697.1 817.6 700.5C814.1 703.9 810.4 707.4 807.3 710.8C804.2 714.2 802.9 717.2 799.1 721.0C795.3 724.8 790.5 728.4 784.6 733.4C778.8 738.4 770.0 746.0 764.0 751.0C758.0 756.0 754.0 759.2 748.5 763.3C743.0 767.4 737.0 771.9 731.0 775.7C725.0 779.5 718.5 782.5 712.4 786.0C706.3 789.5 701.7 792.8 694.2 796.8C686.7 800.8 675.6 806.1 667.3 810.2C659.0 814.3 652.5 817.7 644.6 821.5C636.7 825.3 628.4 829.6 619.9 832.9C611.4 836.2 603.1 838.7 593.4 841.4C583.7 844.1 570.7 847.2 561.6 849.3C552.5 851.4 548.0 852.7 538.9 853.8C529.8 854.9 514.4 855.4 507.1 856.1C499.8 856.8 499.8 857.6 495.0 858.2C490.2 858.8 480.9 859.3 478.1 859.5" fill="none" stroke="#00ff00" stroke-width="4.8" stroke-linecap="round" stroke-linejoin="round" stroke-dasharray="10 8.6"/>
<path d="M819.5 1505.8C816.2 1505.5 806.6 1504.8 799.5 1504.1C792.4 1503.4 784.4 1502.7 776.8 1501.8C769.2 1500.9 761.7 1500.2 754.1 1498.9C746.5 1497.6 739.5 1495.9 731.4 1494.0C723.3 1492.1 714.7 1490.2 705.6 1487.6C696.5 1485.0 686.3 1481.9 676.7 1478.5C667.1 1475.1 656.2 1470.4 647.8 1467.2C639.4 1464.0 632.5 1461.6 626.1 1459.5C619.7 1457.4 615.0 1456.1 609.5 1454.6C604.0 1453.0 598.5 1451.4 593.0 1450.2C587.5 1449.0 582.0 1448.1 576.5 1447.2C571.0 1446.3 564.4 1445.2 560.0 1444.7C555.6 1444.2 554.8 1444.7 550.0 1444.2C545.2 1443.7 539.8 1442.5 531.5 1441.9C523.2 1441.3 515.2 1441.0 500.0 1440.8C484.8 1440.6 461.9 1440.6 440.0 1440.5C418.1 1440.4 368.3 1440.5 368.3 1440.4C368.3 1440.3 418.1 1440.1 440.0 1440.0C461.9 1439.9 487.2 1439.8 500.0 1439.6C512.8 1439.4 509.8 1439.7 516.6 1439.0C523.4 1438.3 533.5 1436.4 540.7 1435.6C547.9 1434.8 554.0 1434.8 560.0 1434.0C566.0 1433.2 571.0 1432.0 576.5 1430.6C582.0 1429.2 588.2 1427.5 593.0 1425.7C597.8 1423.9 601.3 1422.0 605.4 1419.9C609.5 1417.8 614.6 1415.0 617.8 1413.3C621.0 1411.6 620.3 1412.9 624.4 1410.0C628.5 1407.1 636.1 1400.8 642.6 1396.0C649.1 1391.2 656.3 1386.0 663.2 1381.5C670.1 1377.0 676.9 1373.2 683.8 1369.1C690.7 1365.0 697.6 1360.9 704.5 1356.8C711.4 1352.7 719.2 1347.9 725.1 1344.4C731.0 1340.9 734.3 1339.6 739.8 1336.0C745.3 1332.4 752.1 1327.3 758.1 1322.7C764.1 1318.1 770.1 1312.6 775.7 1308.2C781.3 1303.8 786.8 1300.2 791.8 1296.5C796.8 1292.8 801.3 1289.9 805.5 1286.3C809.7 1282.7 812.8 1278.5 816.8 1274.9C820.8 1271.3 825.8 1267.3 829.2 1264.6C832.7 1261.8 834.8 1260.5 837.5 1258.4C840.2 1256.3 843.0 1254.3 845.7 1252.2C848.5 1250.1 851.3 1248.4 854.0 1246.0C856.7 1243.6 860.4 1239.2 861.7 1237.8" fill="none" stroke="#000000" stroke-width="4.0" stroke-linecap="round" stroke-linejoin="round"/>
<path d="M680.0 1505.5C679.5 1504.8 678.5 1502.8 676.7 1501.1C675.0 1499.4 672.1 1497.4 669.5 1495.4C666.9 1493.4 663.9 1491.1 660.8 1488.9C657.7 1486.7 653.8 1484.5 650.7 1482.4C647.6 1480.4 644.7 1479.0 642.0 1476.6C639.3 1474.2 637.6 1470.5 634.3 1467.8C630.9 1465.1 624.6 1462.1 621.9 1460.4C619.1 1458.8 620.4 1459.2 617.8 1457.9C615.2 1456.7 609.4 1454.1 606.2 1452.9C603.0 1451.7 601.0 1451.7 598.8 1450.5C596.6 1449.3 594.8 1447.0 593.0 1445.5C591.2 1444.0 590.9 1442.6 588.1 1441.4C585.4 1440.2 580.5 1439.5 576.5 1438.5C572.5 1437.5 568.5 1436.5 564.1 1435.2C559.7 1433.9 555.4 1431.9 550.0 1430.5C544.6 1429.1 539.2 1427.8 531.5 1426.8C523.8 1425.8 512.9 1425.2 503.6 1424.6C494.3 1424.0 482.7 1423.8 475.7 1423.2C468.7 1422.7 464.1 1421.6 461.8 1421.3" fill="none" stroke="#ff0000" stroke-width="4.6" stroke-linecap="round" stroke-linejoin="round" stroke-dasharray="16.4 11.6"/>
<path d="M771.0 1310.0C769.4 1311.2 765.0 1314.5 761.3 1317.2C757.6 1319.9 753.0 1323.5 748.9 1326.2C744.8 1329.0 740.6 1331.2 736.5 1333.7C732.4 1336.2 727.7 1339.4 724.1 1341.5C720.5 1343.6 718.1 1344.6 714.8 1346.4C711.5 1348.2 709.7 1349.5 704.5 1352.6C699.3 1355.7 690.7 1361.4 683.8 1365.0C676.9 1368.6 670.1 1371.2 663.2 1374.3C656.3 1377.4 649.5 1380.8 642.6 1383.6C635.7 1386.3 628.8 1388.2 621.9 1390.8C615.0 1393.4 607.7 1396.3 601.3 1399.1C594.9 1401.9 590.5 1405.2 583.5 1407.4C576.5 1409.6 568.0 1410.8 559.3 1412.0C550.6 1413.2 540.8 1414.0 531.5 1414.8C522.2 1415.6 511.4 1416.1 503.6 1416.7C495.9 1417.3 492.0 1417.7 485.0 1418.5C478.0 1419.3 465.7 1420.8 461.8 1421.3" fill="none" stroke="#ff0000" stroke-width="4.6" stroke-linecap="round" stroke-linejoin="round" stroke-dasharray="16.4 11.6"/>
<path d="M687.0 1541.0C686.6 1539.9 685.5 1536.6 684.6 1534.4C683.7 1532.2 682.5 1530.0 681.7 1527.9C680.9 1525.9 680.4 1524.0 679.6 1522.1C678.8 1520.2 677.4 1518.1 676.7 1516.3C676.0 1514.5 675.9 1513.1 675.2 1511.3C674.5 1509.5 673.4 1507.4 672.4 1505.5C671.4 1503.6 670.7 1501.6 669.5 1499.7C668.3 1497.8 667.8 1498.7 665.1 1493.9C662.5 1489.1 656.2 1475.4 653.6 1470.8C651.0 1466.2 650.5 1468.2 649.2 1466.5C647.9 1464.8 646.9 1462.6 645.6 1460.7C644.3 1458.8 642.8 1456.6 641.3 1454.9C639.8 1453.2 638.2 1452.1 636.8 1450.5C635.4 1448.9 634.1 1447.0 632.7 1445.5C631.3 1444.0 630.0 1442.9 628.5 1441.4C627.0 1440.0 625.2 1438.2 623.6 1436.8C622.0 1435.3 620.4 1434.0 618.6 1432.7C616.8 1431.4 615.4 1431.0 612.8 1429.0C610.2 1427.0 605.4 1422.8 602.9 1420.7C600.4 1418.6 600.0 1417.4 598.0 1416.2C596.0 1415.0 594.0 1415.0 590.6 1413.7C587.2 1412.4 582.2 1410.0 577.9 1408.3C573.6 1406.6 569.2 1405.2 564.9 1403.7C560.6 1402.2 556.2 1400.4 551.9 1399.0C547.6 1397.6 543.2 1396.2 538.9 1395.3C534.6 1394.4 531.5 1394.2 525.9 1393.4C520.3 1392.6 513.9 1391.3 505.5 1390.7C497.1 1390.1 487.4 1390.1 475.7 1389.7C463.9 1389.3 441.8 1388.5 435.0 1388.2" fill="none" stroke="#0000ff" stroke-width="4.6" stroke-linecap="round" stroke-linejoin="round" stroke-dasharray="0.01 8"/>
<path d="M873.1 1187.2C873.0 1188.4 873.0 1192.1 872.6 1194.4C872.2 1196.7 871.2 1199.1 870.5 1201.2C869.8 1203.3 869.2 1205.2 868.4 1207.3C867.6 1209.3 866.9 1211.5 865.9 1213.5C864.9 1215.5 864.0 1216.4 862.2 1219.2C860.4 1222.0 857.7 1227.0 855.0 1230.6C852.3 1234.2 849.2 1237.5 846.2 1240.9C843.2 1244.3 840.1 1248.0 837.0 1251.2C833.9 1254.4 830.8 1256.9 827.7 1260.0C824.6 1263.1 821.6 1266.6 818.4 1269.8C815.2 1273.0 812.0 1276.0 808.6 1279.1C805.2 1282.2 801.8 1285.4 798.3 1288.4C794.8 1291.4 791.4 1294.4 787.7 1297.3C784.0 1300.2 780.2 1302.8 776.2 1305.6C772.2 1308.4 768.1 1311.3 763.8 1313.9C759.5 1316.5 755.0 1319.0 750.6 1321.3C746.2 1323.6 741.8 1325.6 737.3 1327.9C732.8 1330.2 727.5 1332.9 723.7 1334.9C720.0 1337.0 719.7 1338.1 714.8 1340.2C709.9 1342.3 700.7 1345.4 694.2 1347.5C687.7 1349.6 681.5 1350.9 675.6 1352.6C669.8 1354.3 665.0 1356.2 659.1 1357.8C653.2 1359.3 646.7 1360.7 640.5 1361.9C634.3 1363.1 628.4 1363.8 621.9 1365.0C615.4 1366.2 606.5 1368.1 601.3 1369.1C596.1 1370.1 596.3 1370.0 590.9 1371.1C585.5 1372.2 575.4 1374.4 568.6 1375.8C561.8 1377.2 556.8 1378.3 550.0 1379.5C543.2 1380.7 535.1 1382.3 527.7 1383.2C520.3 1384.1 514.2 1384.6 505.5 1385.1C496.8 1385.6 487.4 1385.7 475.7 1386.2C463.9 1386.7 441.8 1387.9 435.0 1388.2" fill="none" stroke="#0000ff" stroke-width="4.6" stroke-linecap="round" stroke-linejoin="round" stroke-dasharray="0.01 8"/>
<path d="M707.5 1505.5C705.5 1504.9 699.2 1503.4 695.5 1501.9C691.8 1500.5 688.5 1498.4 685.4 1496.8C682.3 1495.2 679.4 1494.0 676.7 1492.5C674.1 1491.0 672.1 1489.9 669.5 1488.1C666.9 1486.3 663.4 1484.0 660.8 1481.6C658.1 1479.2 656.0 1476.5 653.6 1473.7C651.2 1470.9 648.9 1467.6 646.4 1465.0C643.9 1462.4 640.8 1459.9 638.4 1457.9C636.0 1455.9 634.1 1454.6 631.8 1452.9C629.5 1451.2 626.7 1449.1 624.4 1447.6C622.1 1446.1 620.0 1445.2 617.8 1443.9C615.6 1442.6 614.2 1441.4 611.2 1439.7C608.2 1438.0 602.6 1435.1 599.6 1433.5C596.6 1431.9 596.2 1431.5 593.0 1430.2C589.8 1428.9 584.6 1426.9 580.6 1425.7C576.6 1424.5 572.5 1423.9 569.1 1423.2C565.7 1422.5 563.2 1422.2 560.0 1421.6C556.8 1421.0 554.8 1420.4 550.0 1419.4C545.2 1418.4 539.8 1416.5 531.5 1415.7C523.2 1414.9 513.6 1414.8 500.0 1414.6C486.4 1414.3 469.6 1414.3 450.0 1414.2C430.4 1414.1 393.7 1414.0 382.4 1413.9" fill="none" stroke="#ff00ff" stroke-width="4.6" stroke-linecap="round" stroke-linejoin="round" stroke-dasharray="14.5 8 0.5 8"/>
<path d="M878.2 1190.3C877.9 1192.8 877.4 1200.3 876.5 1205.0C875.6 1209.7 874.8 1213.9 872.6 1218.2C870.4 1222.5 866.8 1226.3 863.3 1230.6C859.8 1234.9 855.9 1239.9 851.9 1244.0C847.9 1248.1 843.5 1251.5 839.5 1255.3C835.5 1259.1 831.8 1263.1 828.2 1266.7C824.6 1270.3 821.7 1273.4 817.9 1277.0C814.1 1280.6 809.5 1285.0 805.5 1288.4C801.5 1291.8 797.5 1295.7 794.1 1297.6C790.7 1299.5 788.5 1298.1 785.0 1300.0C781.5 1301.9 777.0 1306.1 773.0 1309.0C769.0 1311.9 765.3 1314.3 761.3 1317.2C757.3 1320.1 753.0 1323.5 748.9 1326.2C744.8 1329.0 740.6 1331.2 736.5 1333.7C732.4 1336.2 729.4 1338.3 724.1 1341.5C718.8 1344.7 711.2 1349.0 704.5 1352.6C697.8 1356.2 690.7 1359.7 683.8 1363.0C676.9 1366.3 670.1 1369.1 663.2 1372.2C656.3 1375.3 649.5 1378.7 642.6 1381.5C635.7 1384.3 628.8 1386.6 621.9 1388.8C615.0 1391.0 606.5 1393.1 601.3 1394.9C596.1 1396.8 596.3 1398.3 590.9 1399.9C585.5 1401.5 577.0 1403.2 568.6 1404.6C560.2 1406.0 550.0 1407.2 540.7 1408.3C531.4 1409.4 519.7 1410.4 512.9 1411.1C506.1 1411.8 510.5 1411.8 500.0 1412.2C489.5 1412.6 469.6 1413.1 450.0 1413.4C430.4 1413.7 393.7 1413.8 382.4 1413.9" fill="none" stroke="#ff00ff" stroke-width="4.6" stroke-linecap="round" stroke-linejoin="round" stroke-dasharray="14.5 8 0.5 8"/>
<path d="M634.0 1506.5C633.8 1505.4 633.3 1502.0 632.6 1499.7C631.9 1497.4 630.7 1495.0 629.7 1492.5C628.7 1490.0 627.9 1487.2 626.8 1484.5C625.7 1481.8 624.3 1479.4 623.2 1476.6C622.1 1473.8 621.5 1470.2 620.3 1467.8C619.1 1465.4 617.9 1464.1 616.2 1462.0C614.6 1459.9 612.4 1457.4 610.4 1455.0C608.4 1452.6 606.8 1450.1 604.4 1447.7C602.0 1445.3 599.1 1443.0 596.3 1440.6C593.4 1438.2 590.6 1435.3 587.3 1433.5C584.0 1431.7 580.2 1431.1 576.5 1429.8C572.8 1428.5 568.2 1426.7 565.0 1425.7C561.8 1424.8 561.5 1425.0 557.5 1424.1C553.5 1423.2 546.3 1421.3 540.7 1420.4C535.1 1419.5 528.6 1420.1 524.0 1418.5C519.4 1416.9 514.8 1412.1 512.9 1410.8" fill="none" stroke="#00ffff" stroke-width="4.6" stroke-linecap="round" stroke-linejoin="round" stroke-dasharray="12.5 7.8 0.5 7.8 0.5 7.8"/>
<path d="M803.4 1185.0C803.0 1186.3 802.0 1189.8 800.8 1193.0C799.6 1196.2 797.6 1200.8 796.2 1204.2C794.8 1207.6 793.8 1210.5 792.5 1213.4C791.2 1216.3 790.0 1219.2 788.7 1221.8C787.5 1224.4 786.5 1226.0 785.0 1229.2C783.5 1232.5 781.2 1237.7 779.4 1241.3C777.5 1244.9 775.6 1247.8 773.9 1250.6C772.2 1253.4 770.8 1255.5 769.2 1258.0C767.7 1260.5 766.6 1262.4 764.6 1265.5C762.6 1268.6 759.7 1273.0 757.2 1276.6C754.7 1280.1 752.2 1283.8 749.7 1286.8C747.2 1289.8 744.7 1291.9 742.3 1294.4C739.9 1297.0 737.9 1299.4 735.4 1302.1C732.9 1304.8 730.3 1307.2 727.2 1310.3C724.1 1313.4 720.7 1317.1 716.9 1320.6C713.1 1324.0 708.0 1328.2 704.5 1331.0C701.0 1333.8 699.7 1334.8 696.2 1337.2C692.8 1339.6 688.3 1342.5 683.8 1345.4C679.3 1348.3 673.2 1352.0 669.4 1354.7C665.6 1357.5 664.2 1359.8 661.1 1361.9C658.0 1364.0 654.6 1365.0 650.8 1367.1C647.0 1369.2 643.2 1372.1 638.4 1374.3C633.6 1376.5 626.7 1378.6 621.9 1380.5C617.1 1382.4 613.5 1384.2 609.5 1385.7C605.5 1387.2 602.3 1388.1 598.2 1389.8C594.1 1391.5 589.8 1394.3 584.8 1396.0C579.8 1397.7 574.1 1398.8 568.3 1400.1C562.5 1401.4 556.1 1402.5 550.0 1403.7C543.9 1404.9 537.7 1406.2 531.5 1407.4C525.3 1408.6 516.0 1410.2 512.9 1410.8" fill="none" stroke="#00ffff" stroke-width="4.6" stroke-linecap="round" stroke-linejoin="round" stroke-dasharray="12.5 7.8 0.5 7.8 0.5 7.8"/>
<path d="M697.5 1505.5C695.0 1504.7 686.9 1502.1 682.5 1500.4C678.1 1498.7 674.5 1497.6 670.9 1495.4C667.3 1493.2 663.7 1490.1 660.8 1487.4C657.9 1484.8 656.2 1482.3 653.6 1479.5C651.0 1476.7 647.8 1473.6 644.9 1470.8C642.0 1468.0 639.1 1465.1 636.2 1462.9C633.3 1460.7 630.0 1459.1 627.6 1457.8C625.2 1456.5 624.9 1456.2 621.9 1455.0C618.9 1453.8 613.4 1451.9 609.5 1450.5C605.6 1449.1 602.2 1447.8 598.8 1446.7C595.4 1445.6 591.9 1444.6 588.9 1443.9C585.9 1443.2 585.4 1443.1 580.6 1442.6C575.8 1442.1 565.1 1441.4 560.0 1441.0C554.9 1440.6 554.8 1440.8 550.0 1440.3C545.2 1439.8 539.8 1438.5 531.5 1438.0C523.2 1437.5 513.6 1437.2 500.0 1437.0C486.4 1436.8 467.9 1436.6 450.0 1436.5C432.1 1436.4 401.9 1436.2 392.3 1436.2" fill="none" stroke="#00ff00" stroke-width="4.8" stroke-linecap="round" stroke-linejoin="round" stroke-dasharray="10 8.6"/>
<path d="M879.3 1184.6C879.1 1186.4 878.6 1192.5 878.2 1195.5C877.8 1198.5 877.5 1200.1 876.7 1202.7C875.9 1205.3 874.8 1208.2 873.6 1211.0C872.4 1213.8 871.0 1216.6 869.5 1219.2C868.0 1221.8 866.2 1223.8 864.3 1226.4C862.4 1229.0 860.2 1232.3 858.1 1234.7C856.0 1237.1 854.3 1238.7 851.9 1240.9C849.5 1243.1 846.5 1245.5 843.7 1248.1C841.0 1250.7 838.1 1253.7 835.4 1256.4C832.6 1259.2 829.8 1262.0 827.2 1264.6C824.6 1267.2 822.3 1269.4 819.9 1271.8C817.5 1274.2 815.5 1276.7 812.7 1279.1C810.0 1281.5 806.0 1283.9 803.4 1286.3C800.8 1288.7 799.7 1290.5 796.8 1293.2C793.9 1295.9 790.0 1299.1 786.1 1302.3C782.2 1305.5 778.0 1308.8 773.7 1312.2C769.4 1315.6 764.9 1319.5 760.5 1322.9C756.1 1326.3 751.6 1329.6 747.3 1332.8C743.0 1336.0 739.3 1338.4 734.9 1341.9C730.5 1345.4 726.1 1349.0 721.0 1353.7C715.9 1358.4 710.7 1364.4 704.5 1370.2C698.3 1376.0 690.1 1383.7 683.8 1388.8C677.5 1393.9 671.1 1397.8 666.6 1400.7C662.1 1403.7 661.2 1404.3 656.5 1406.5C651.8 1408.7 643.5 1411.7 638.4 1413.7C633.3 1415.7 630.9 1416.7 626.1 1418.3C621.3 1419.9 614.3 1421.9 609.5 1423.2C604.7 1424.5 601.3 1425.2 597.2 1426.1C593.1 1427.0 589.6 1427.8 584.8 1428.6C580.0 1429.4 574.1 1430.6 568.3 1431.1C562.5 1431.6 556.1 1431.1 550.0 1431.5C543.9 1431.9 539.8 1432.9 531.5 1433.4C523.2 1434.0 513.6 1434.4 500.0 1434.8C486.4 1435.2 467.9 1435.6 450.0 1435.8C432.1 1436.0 401.9 1436.1 392.3 1436.2" fill="none" stroke="#00ff00" stroke-width="4.8" stroke-linecap="round" stroke-linejoin="round" stroke-dasharray="10 8.6"/>
<g font-family="Liberation Sans, sans-serif" font-weight="bold" fill="#000">
<text style="white-space:pre" transform="matrix(1.2876 0 0 1 78.77 18.00)" font-size="19.92">0.1</text>
<text style="white-space:pre" transform="matrix(1.3540 0 0 1 78.69 114.60)" font-size="20.48">0.0</text>
<text style="white-space:pre" transform="matrix(1.2277 0 0 1 69.80 210.79)" font-size="20.90">-0.1</text>
<text style="white-space:pre" transform="matrix(1.3242 0 0 1 69.73 306.89)" font-size="20.76">-0.2</text>
<text style="white-space:pre" transform="matrix(1.3053 0 0 1 70.14 404.07)" font-size="20.73">-0.3</text>
<text style="white-space:pre" transform="matrix(1.3828 0 0 1 75.35 618.41)" font-size="18.93">0.1</text>
<text style="white-space:pre" transform="matrix(1.4303 0 0 1 75.31 709.31)" font-size="19.07">0.0</text>
<text style="white-space:pre" transform="matrix(1.3688 0 0 1 67.09 800.41)" font-size="18.93">-0.1</text>
<text style="white-space:pre" transform="matrix(1.4302 0 0 1 67.04 890.41)" font-size="18.93">-0.2</text>
<text style="white-space:pre" transform="matrix(1.4287 0 0 1 67.05 980.19)" font-size="18.90">-0.3</text>
<text style="white-space:pre" transform="matrix(1.4380 0 0 1 82.37 1190.12)" font-size="17.94">0.1</text>
<text style="white-space:pre" transform="matrix(1.5289 0 0 1 82.30 1270.32)" font-size="17.94">0.0</text>
<text style="white-space:pre" transform="matrix(1.4089 0 0 1 72.98 1351.41)" font-size="18.64">-0.1</text>
<text style="white-space:pre" transform="matrix(1.5008 0 0 1 72.91 1432.01)" font-size="18.64">-0.2</text>
<text style="white-space:pre" transform="matrix(1.4992 0 0 1 72.91 1512.40)" font-size="18.62">-0.3</text>
<text style="white-space:pre" transform="matrix(1.4695 0 0 1 72.93 1592.81)" font-size="18.64">-0.4</text>
<text style="white-space:pre" transform="matrix(1.4939 0 0 1 127.57 479.11)" font-size="18.50">-6</text>
<text style="white-space:pre" transform="matrix(1.3984 0 0 1 330.59 479.30)" font-size="19.04">-4</text>
<text style="white-space:pre" transform="matrix(1.4801 0 0 1 533.92 479.30)" font-size="18.77">-2</text>
<text style="white-space:pre" transform="matrix(1.3199 0 0 1 742.85 479.11)" font-size="18.50">0</text>
<text style="white-space:pre" transform="matrix(1.3958 0 0 1 945.58 479.30)" font-size="18.77">2</text>
<text style="white-space:pre" transform="matrix(1.5171 0 0 1 123.67 1053.22)" font-size="18.22">-6</text>
<text style="white-space:pre" transform="matrix(1.4201 0 0 1 324.69 1053.40)" font-size="18.75">-4</text>
<text style="white-space:pre" transform="matrix(1.5030 0 0 1 526.02 1053.40)" font-size="18.48">-2</text>
<text style="white-space:pre" transform="matrix(1.3403 0 0 1 732.95 1053.22)" font-size="18.22">0</text>
<text style="white-space:pre" transform="matrix(1.4174 0 0 1 933.68 1053.40)" font-size="18.48">2</text>
<text style="white-space:pre" transform="matrix(1.4604 0 0 1 130.87 1619.21)" font-size="18.93">-6</text>
<text style="white-space:pre" transform="matrix(1.3671 0 0 1 333.51 1619.40)" font-size="19.48">-4</text>
<text style="white-space:pre" transform="matrix(1.4469 0 0 1 536.47 1619.40)" font-size="19.20">-2</text>
<text style="white-space:pre" transform="matrix(1.2903 0 0 1 745.02 1619.21)" font-size="18.93">0</text>
<text style="white-space:pre" transform="matrix(1.3645 0 0 1 947.38 1619.40)" font-size="19.20">2</text>
<text style="white-space:pre" transform="matrix(1.3163 0 0 1 301.25 50.90)" font-size="20.93">Blank</text>
<text style="white-space:pre" transform="matrix(1.3447 0 0 1 302.14 76.40)" font-size="20.34">20 ppm</text>
<text style="white-space:pre" transform="matrix(1.3369 0 0 1 302.69 102.40)" font-size="20.34">40 ppm</text>
<text style="white-space:pre" transform="matrix(1.3455 0 0 1 302.09 128.40)" font-size="20.34">60 ppm</text>
<text style="white-space:pre" transform="matrix(1.3422 0 0 1 302.23 154.40)" font-size="20.34">80  ppm</text>
<text style="white-space:pre" transform="matrix(1.3555 0 0 1 301.36 180.40)" font-size="20.34">100 ppm</text>
<text style="white-space:pre" transform="matrix(1.3562 0 0 1 296.46 649.10)" font-size="20.20">Blank</text>
<text style="white-space:pre" transform="matrix(1.3781 0 0 1 297.35 673.50)" font-size="19.63">20 ppm</text>
<text style="white-space:pre" transform="matrix(1.3701 0 0 1 297.90 697.80)" font-size="19.63">40 ppm</text>
<text style="white-space:pre" transform="matrix(1.3789 0 0 1 297.30 722.00)" font-size="19.63">60 ppm</text>
<text style="white-space:pre" transform="matrix(1.3767 0 0 1 297.44 746.30)" font-size="19.63">80  ppm</text>
<text style="white-space:pre" transform="matrix(1.3913 0 0 1 296.58 770.90)" font-size="19.63">100 ppm</text>
<text style="white-space:pre" transform="matrix(1.3906 0 0 1 304.97 1220.60)" font-size="19.62">Blank</text>
<text style="white-space:pre" transform="matrix(1.4251 0 0 1 305.85 1244.61)" font-size="19.07">20 ppm</text>
<text style="white-space:pre" transform="matrix(1.4168 0 0 1 306.39 1268.61)" font-size="19.07">40 ppm</text>
<text style="white-space:pre" transform="matrix(1.4260 0 0 1 305.79 1292.61)" font-size="19.07">60 ppm</text>
<text style="white-space:pre" transform="matrix(1.4203 0 0 1 305.93 1316.91)" font-size="19.07">80  ppm</text>
<text style="white-space:pre" transform="matrix(1.4352 0 0 1 305.08 1340.91)" font-size="19.07">100 ppm</text>
<text style="white-space:pre" transform="matrix(1.3224 0 0 1 890.39 33.84)" font-size="24.33">(a)</text>
<text style="white-space:pre" transform="matrix(1.4399 0 0 1 879.60 633.29)" font-size="22.19">(b)</text>
<text style="white-space:pre" transform="matrix(1.4935 0 0 1 894.49 1218.72)" font-size="21.54">(c)</text>
<text style="white-space:pre" transform="matrix(1.3566 0 0 1 436.11 519.10)" font-size="27.31">log(i, A/cm</text>
<text style="white-space:pre" transform="matrix(1.3240 0 0 1 623.81 509.40)" font-size="27.79">2</text>
<text style="white-space:pre" transform="matrix(1.1631 0 0 1 646.17 518.89)" font-size="27.44">)</text>
<text style="white-space:pre" transform="matrix(1.4416 0 0 1 429.52 1095.50)" font-size="25.52">log(i, A/cm</text>
<text style="white-space:pre" transform="matrix(1.3962 0 0 1 615.40 1086.30)" font-size="26.50">2</text>
<text style="white-space:pre" transform="matrix(1.1993 0 0 1 637.77 1095.15)" font-size="25.72">)</text>
<text style="white-space:pre" transform="matrix(1.4606 0 0 1 438.91 1669.30)" font-size="25.38">log(i, A/cm</text>
<text style="white-space:pre" transform="matrix(1.4104 0 0 1 626.34 1659.80)" font-size="25.50">2</text>
<text style="white-space:pre" transform="matrix(1.2597 0 0 1 648.17 1669.27)" font-size="25.62">)</text>
<text style="white-space:pre" stroke="#000" stroke-width="0.9" stroke-linejoin="round" letter-spacing="-2.091" transform="matrix(0 -1.1000 1 0 32.10 316.34)" font-size="29.07">E, V(Ag/AgCl)</text>
<text style="white-space:pre" stroke="#000" stroke-width="0.9" stroke-linejoin="round" letter-spacing="-1.882" transform="matrix(0 -1.1000 1 0 28.50 898.10)" font-size="27.18">E, V(Ag/AgCl)</text>
<text style="white-space:pre" stroke="#000" stroke-width="0.9" stroke-linejoin="round" letter-spacing="-2.079" transform="matrix(0 -1.1000 1 0 33.70 1466.30)" font-size="27.18">E, V(Ag/AgCl)</text>
</g>
</svg>
</body></html>
